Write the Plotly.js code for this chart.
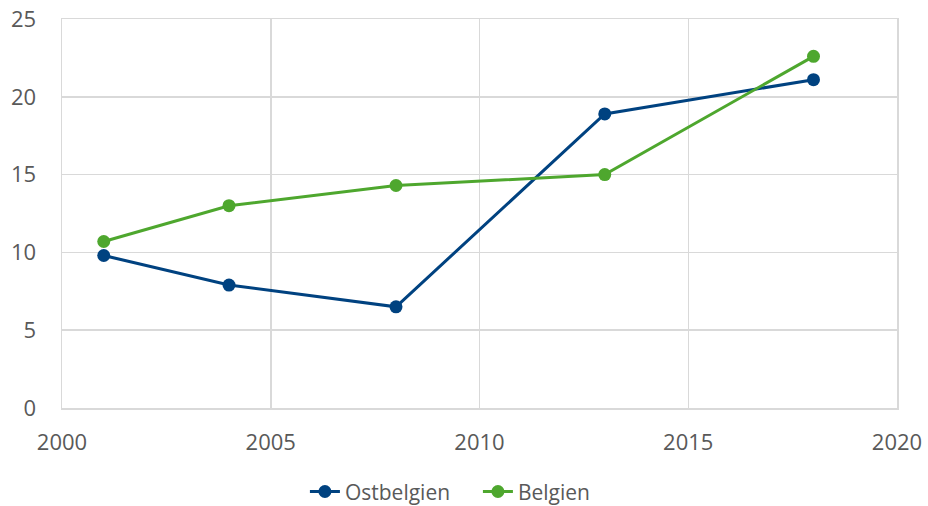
<!DOCTYPE html>
<html><head><meta charset="utf-8">
<script src="https://cdn.plot.ly/plotly-3.0.1.min.js"></script>
<style>html,body{margin:0;padding:0;background:#fff}#chart{width:928px;height:506px}</style>
</head><body><div id="chart"></div>
<script>
const years = [2001, 2004, 2008, 2013, 2018];
const ostbelgien = [9.8, 7.9, 6.5, 18.9, 21.1];
const belgien = [10.7, 13.0, 14.3, 15.0, 22.6];
const seriesNames = ["Ostbelgien", "Belgien"];

const traces = [
  {x: years, y: ostbelgien, name: seriesNames[0], mode: "lines+markers",
   line: {color: "#004280", width: 3}, marker: {color: "#004280", size: 13}},
  {x: years, y: belgien, name: seriesNames[1], mode: "lines+markers",
   line: {color: "#4ea72e", width: 3}, marker: {color: "#4ea72e", size: 13}}
];
const layout = {
  width: 928, height: 506,
  margin: {l: 62, r: 31, t: 19, b: 98},
  paper_bgcolor: "#fff", plot_bgcolor: "#fff",
  font: {family: "'Open Sans', sans-serif", size: 22, color: "#595959"},
  xaxis: {range: [2000, 2020], tickvals: [2000, 2005, 2010, 2015, 2020], showgrid: true,
    gridcolor: "#d9d9d9", gridwidth: 1.5, zeroline: false, showline: true, linecolor: "#d9d9d9",
    linewidth: 1.5, mirror: true, ticks: "", ticklen: 0, ticklabelstandoff: 14, automargin: false,
    tickfont: {size: 22, color: "#595959"}},
  yaxis: {range: [0, 25], tickvals: [0, 5, 10, 15, 20, 25], showgrid: true,
    gridcolor: "#d9d9d9", gridwidth: 1.5, zeroline: false, showline: true, linecolor: "#d9d9d9",
    linewidth: 1.5, mirror: true, ticks: "", ticklabelstandoff: 20, automargin: false,
    tickfont: {size: 22, color: "#595959"}},
  showlegend: true,
  legend: {orientation: "h", x: 0.515, xanchor: "center", xref: "container", y: 0.028, yanchor: "middle", yref: "container",
    font: {size: 21, color: "#595959"}, itemwidth: 30, entrywidth: 128, tracegroupgap: 0}
};
Plotly.newPlot("chart", traces, layout, {displayModeBar: false, staticPlot: true});
</script></body></html>
